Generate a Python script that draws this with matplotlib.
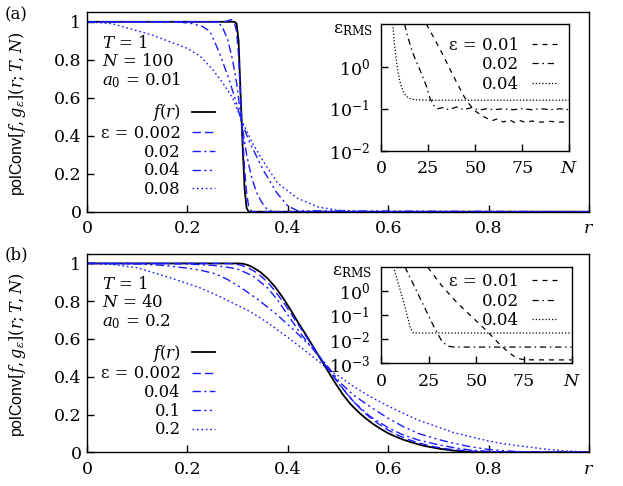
import math
import matplotlib
matplotlib.use('Agg')
import matplotlib.pyplot as plt
from matplotlib.ticker import NullLocator

plt.rcParams['font.family'] = 'DejaVu Serif'
plt.rcParams['font.size'] = 11.5
plt.rcParams['mathtext.fontset'] = 'dejavuserif'
plt.rcParams['axes.linewidth'] = 1.0

BLUE = '#1a1aff'

# ---- panel (a): T=1, N=100, a0=0.01 ----
a_f_r = [0, 0.294, 0.298, 0.302, 0.306, 0.310, 0.314, 0.318, 0.322, 1.0]
a_f_v = [1, 1.0, 0.99, 0.90, 0.62, 0.35, 0.12, 0.02, 0.0, 0.0]

a_e1_r = [0, 0.27, 0.28, 0.287, 0.293, 0.298, 0.302, 0.306, 0.310, 0.314, 0.318, 0.322, 0.328, 0.335, 1.0]
a_e1_v = [1, 1.0, 1.004, 1.012, 1.0, 0.95, 0.82, 0.60, 0.40, 0.22, 0.10, 0.03, 0.0, 0.0, 0.0]

a_e2_r = [0, 0.25, 0.262, 0.27, 0.28, 0.29, 0.298, 0.308, 0.318, 0.328, 0.338, 0.348, 0.358, 0.37, 1.0]
a_e2_v = [1, 1.0, 0.995, 0.97, 0.91, 0.80, 0.68, 0.47, 0.30, 0.18, 0.10, 0.05, 0.015, 0.0, 0.0]

a_e3_r = [0, 0.18, 0.21, 0.23, 0.245, 0.265, 0.285, 0.298, 0.308, 0.325, 0.351, 0.378, 0.40, 0.42, 1.0]
a_e3_v = [1, 1.0, 0.99, 0.975, 0.95, 0.83, 0.68, 0.57, 0.47, 0.36, 0.22, 0.10, 0.03, 0.005, 0.0]

a_e4_r = [0, 0.05, 0.09, 0.13, 0.16, 0.2, 0.225, 0.25, 0.27, 0.29, 0.31, 0.33, 0.35, 0.38, 0.42, 0.46, 0.5, 0.55, 1.0]
a_e4_v = [1, 0.99, 0.96, 0.93, 0.90, 0.86, 0.82, 0.75, 0.68, 0.60, 0.47, 0.36, 0.27, 0.15, 0.07, 0.025, 0.008, 0.0, 0.0]

a_labels = ['ε = 0.002', '0.02', '0.04', '0.08']

# inset (a): eps_RMS vs N
ai_n1 = [24, 28, 32, 36, 40, 44, 47, 50, 53, 56, 59, 62, 65, 68, 71, 74, 77, 80, 85, 90, 95, 100]
ai_v1 = [10.5, 5.0, 2.3, 1.0, 0.44, 0.2, 0.126, 0.089, 0.071, 0.060, 0.052, 0.058, 0.048, 0.055,
         0.047, 0.052, 0.047, 0.051, 0.048, 0.050, 0.048, 0.049]
ai_n2 = [12.5, 14, 16, 18, 20, 22, 24, 26, 28, 30, 33, 36, 40, 44, 48, 52, 56, 60, 65, 70, 75, 80, 85, 90, 95, 100]
ai_v2 = [10.5, 5.6, 2.8, 1.58, 1.0, 0.60, 0.355, 0.178, 0.12, 0.1, 0.107, 0.095, 0.11, 0.095, 0.107,
         0.093, 0.1, 0.095, 0.1, 0.095, 0.1, 0.095, 0.1, 0.095, 0.1, 0.095]
ai_n3 = [6.2, 7, 8, 9, 10, 11, 12, 13, 14, 16, 18, 25, 40, 60, 80, 100]
ai_v3 = [10.5, 4.0, 1.6, 0.75, 0.44, 0.32, 0.25, 0.21, 0.19, 0.17, 0.165, 0.16, 0.16, 0.16, 0.16, 0.16]

# ---- panel (b): T=1, N=40, a0=0.2 ----
b_f_r = [0, 0.3, 0.305, 0.311, 0.32, 0.33, 0.345, 0.36, 0.375, 0.39, 0.405, 0.42, 0.435, 0.45, 0.465,
         0.48, 0.495, 0.51, 0.525, 0.54, 0.555, 0.57, 0.585, 0.6, 0.615, 0.63, 0.65, 0.67, 0.7, 0.73,
         0.76, 0.8, 1.0]
b_f_v = [1, 1.0, 0.9995, 0.998, 0.992, 0.98, 0.955, 0.92, 0.875, 0.82, 0.757, 0.69, 0.627, 0.562, 0.495,
         0.43, 0.365, 0.305, 0.255, 0.215, 0.18, 0.15, 0.124, 0.101, 0.083, 0.067, 0.05, 0.035, 0.02, 0.009,
         0.003, 0.0, 0.0]

b_e1_r = [0, 0.27, 0.29, 0.305, 0.32, 0.335, 0.35, 0.365, 0.38, 0.395, 0.41, 0.425, 0.44, 0.455, 0.47,
          0.485, 0.5, 0.515, 0.53, 0.545, 0.56, 0.58, 0.6, 0.62, 0.64, 0.66, 0.69, 0.72, 0.76, 0.8, 0.85, 1.0]
b_e1_v = [1, 1.0, 0.998, 0.992, 0.978, 0.956, 0.925, 0.885, 0.835, 0.78, 0.72, 0.66, 0.60, 0.54, 0.48,
          0.425, 0.37, 0.32, 0.272, 0.23, 0.193, 0.152, 0.118, 0.09, 0.068, 0.05, 0.03, 0.017, 0.007, 0.002,
          0.0, 0.0]

b_e2_r = [0, 0.15, 0.2, 0.25, 0.28, 0.3, 0.33, 0.36, 0.38, 0.398, 0.424, 0.455, 0.484, 0.504, 0.53, 0.564,
          0.6, 0.63, 0.66, 0.697, 0.73, 0.763, 0.8, 0.85, 1.0]
b_e2_v = [1, 0.999, 0.997, 0.99, 0.98, 0.97, 0.935, 0.87, 0.805, 0.735, 0.635, 0.53, 0.43, 0.355, 0.27,
          0.19, 0.13, 0.092, 0.065, 0.042, 0.025, 0.012, 0.005, 0.001, 0.0]

b_e3_r = [0, 0.1, 0.15, 0.2, 0.225, 0.256, 0.28, 0.305, 0.34, 0.378, 0.411, 0.45, 0.484, 0.504, 0.53,
          0.564, 0.6, 0.63, 0.66, 0.697, 0.73, 0.763, 0.8, 0.85, 0.9, 1.0]
b_e3_v = [1, 0.997, 0.99, 0.975, 0.965, 0.945, 0.915, 0.875, 0.81, 0.73, 0.65, 0.55, 0.44, 0.37, 0.305,
          0.242, 0.18, 0.136, 0.10, 0.07, 0.048, 0.03, 0.015, 0.005, 0.001, 0.0]

b_e4_r = [0, 0.05, 0.1, 0.166, 0.225, 0.256, 0.291, 0.325, 0.358, 0.39, 0.424, 0.455, 0.485, 0.504, 0.53,
          0.564, 0.6, 0.63, 0.66, 0.697, 0.73, 0.763, 0.8, 0.823, 0.86, 0.889, 0.92, 0.956, 1.0]
b_e4_v = [1, 0.995, 0.977, 0.924, 0.871, 0.835, 0.79, 0.745, 0.69, 0.628, 0.56, 0.495, 0.43, 0.40, 0.35,
          0.295, 0.245, 0.207, 0.17, 0.136, 0.105, 0.083, 0.06, 0.048, 0.035, 0.025, 0.015, 0.007, 0.002]

b_labels = ['ε = 0.002', '0.04', '0.1', '0.2']

bi_n1 = [24.5, 32, 40, 48, 56, 62, 67, 71, 75, 85, 100]
bi_v1 = [9.5, 1.58, 0.316, 0.079, 0.020, 0.0063, 0.0028, 0.00166, 0.0014, 0.00138, 0.00138]
bi_n2 = [12.5, 20, 28, 32, 35, 38, 50, 75, 100]
bi_v2 = [10, 0.60, 0.0295, 0.0079, 0.0052, 0.0047, 0.0047, 0.0047, 0.0047]
bi_n3 = [6.5, 8, 10, 12, 14, 15.5, 17, 25, 50, 75, 100]
bi_v3 = [10, 4.0, 1.12, 0.32, 0.079, 0.028, 0.018, 0.018, 0.018, 0.018, 0.018]

inset_labels = ['ε = 0.01', '0.02', '0.04']

# line styles
blue_dashes = [(6, 3), (6, 2.5, 1.5, 2.5), (6, 2.5, 1.5, 2.5, 1.5, 2.5), (1.2, 2.0)]
black_dashes = [(4, 4), (5, 3, 1.2, 3), (1.0, 1.6)]

fig = plt.figure(figsize=(6.23, 4.86), dpi=100)


def style_main(ax):
    ax.set_xlim(0, 1)
    ax.set_ylim(0, 1.05)
    ax.set_xticks([0, 0.2, 0.4, 0.6, 0.8, 1.0])
    ax.set_xticklabels(['0', '0.2', '0.4', '0.6', '0.8', '$r$'])
    ax.set_yticks([0, 0.2, 0.4, 0.6, 0.8, 1.0])
    ax.set_yticklabels(['0', '0.2', '0.4', '0.6', '0.8', '1'])
    ax.tick_params(direction='in', length=5, width=1.0, top=False, right=False, labelsize=12.5)
    ax.tick_params(axis='x', pad=6)
    ax.tick_params(axis='y', pad=4)
    ax.set_ylabel('polConv$[f,g_\\varepsilon](r;T,N)$', family='Liberation Sans', fontsize=11.5)
    ax.yaxis.set_label_coords(-0.118, 0.49)


def style_inset(ax, ymin, ymax, yticks):
    ax.set_yscale('log')
    ax.set_xlim(0, 100)
    ax.set_ylim(ymin, ymax)
    ax.set_xticks([0, 25, 50, 75, 100])
    ax.set_xticklabels(['0', '25', '50', '75', '$N$'])
    ax.set_yticks(yticks)
    ax.set_yticklabels(['$10^{%d}$' % round(math.log10(t)) for t in yticks])
    ax.yaxis.set_minor_locator(NullLocator())
    ax.tick_params(direction='in', length=5, width=1.0, top=False, right=False, labelsize=12.5)
    ax.tick_params(axis='x', pad=7)
    ax.tick_params(axis='y', pad=8)
    ax.text(-0.15, 0.955, r'$\mathrm{ε}_{\mathrm{RMS}}$', transform=ax.transAxes,
            ha='center', va='center', fontsize=12.5)


def draw_main(ax, fr, fv, curves, labels, params):
    ax.plot(fr, fv, color='black', lw=1.3, label='$f(r)$')
    for (r, v), lab, d in zip(curves, labels, blue_dashes):
        ax.plot(r, v, color=BLUE, lw=1.0, dashes=d, label=lab)
    for i, p in enumerate(params):
        ax.text(0.029, 0.845 - 0.092 * i, p, transform=ax.transAxes, ha='left', va='center',
                fontsize=12)


def draw_inset(ax, curves, anchor):
    for (n, v), lab, d in zip(curves, inset_labels, black_dashes):
        ax.plot(n, v, color='black', lw=0.9, dashes=d, label=lab)
    ax.legend(loc='upper right', bbox_to_anchor=anchor, frameon=False, markerfirst=False,
              handlelength=1.5, handletextpad=0.8, labelspacing=0.15, borderpad=0,
              borderaxespad=0, fontsize=12)


# panel (a)
ax_a = fig.add_axes([0.1396, 0.5644, 0.8058, 0.4103])
draw_main(ax_a, a_f_r, a_f_v,
          [(a_e1_r, a_e1_v), (a_e2_r, a_e2_v), (a_e3_r, a_e3_v), (a_e4_r, a_e4_v)],
          a_labels, ['$T$ = 1', '$N$ = 100', '$a_0$ = 0.01'])
style_main(ax_a)
ax_a.legend(loc='upper right', bbox_to_anchor=(0.255, 0.548), frameon=False, markerfirst=False,
            handlelength=1.4, handletextpad=0.7, labelspacing=0.1, borderpad=0, borderaxespad=0,
            fontsize=11.8)

ins_a = fig.add_axes([0.6116, 0.6899, 0.3022, 0.2607])
draw_inset(ins_a, [(ai_n1, ai_v1), (ai_n2, ai_v2), (ai_n3, ai_v3)], (0.935, 0.9))
style_inset(ins_a, 1e-2, 10.5, [1e-2, 1e-1, 1e0])

# panel (b)
ax_b = fig.add_axes([0.1396, 0.0693, 0.8058, 0.4081])
draw_main(ax_b, b_f_r, b_f_v,
          [(b_e1_r, b_e1_v), (b_e2_r, b_e2_v), (b_e3_r, b_e3_v), (b_e4_r, b_e4_v)],
          b_labels, ['$T$ = 1', '$N$ = 40', '$a_0$ = 0.2'])
style_main(ax_b)
ax_b.legend(loc='upper right', bbox_to_anchor=(0.255, 0.552), frameon=False, markerfirst=False,
            handlelength=1.4, handletextpad=0.7, labelspacing=0.1, borderpad=0, borderaxespad=0,
            fontsize=11.8)

ins_b = fig.add_axes([0.6116, 0.2525, 0.3061, 0.1975])
draw_inset(ins_b, [(bi_n1, bi_v1), (bi_n2, bi_v2), (bi_n3, bi_v3)], (0.925, 0.94))
style_inset(ins_b, 1e-3, 9.5, [1e-3, 1e-2, 1e-1, 1e0])

fig.text(0.008, 0.969, '(a)', ha='left', va='center', fontsize=12)
fig.text(0.008, 0.475, '(b)', ha='left', va='center', fontsize=12)

fig.savefig('out.png', dpi=100)
